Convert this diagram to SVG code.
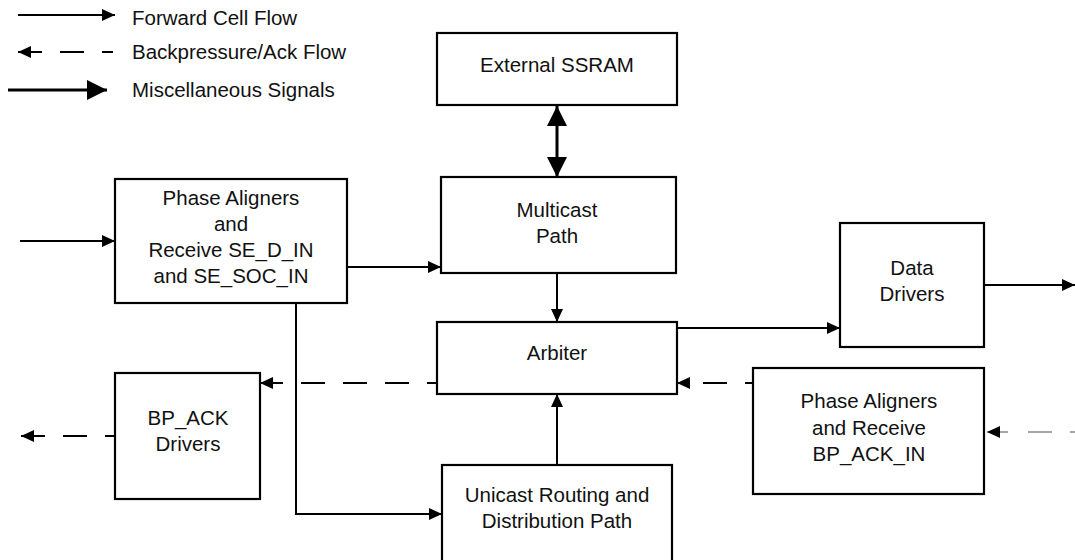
<svg xmlns="http://www.w3.org/2000/svg" width="1075" height="560" viewBox="0 0 1075 560">
<style>
  text { font-family: "Liberation Sans", Arial, sans-serif; font-size: 20.5px; fill: #111; }
  .lbl { text-anchor: middle; }
  .box { fill: #fff; stroke: #000; stroke-width: 2.2; }
  .fwd { fill: none; stroke: #000; stroke-width: 2; marker-end: url(#ah); }
  .bp { fill: none; stroke: #000; stroke-width: 2; stroke-dasharray: 24 18; marker-end: url(#ah); }
  .misc { fill: none; stroke: #000; stroke-width: 3; }
</style>
<defs>
  <marker id="ah" markerUnits="userSpaceOnUse" viewBox="0 0 13 12" refX="13" refY="6" markerWidth="13" markerHeight="12" orient="auto">
    <path d="M0,0 L13,6 L0,12 z" fill="#000"/>
  </marker>
  <marker id="ahBig" markerUnits="userSpaceOnUse" viewBox="0 0 20 20" refX="20" refY="10" markerWidth="20" markerHeight="20" orient="auto-start-reverse">
    <path d="M0,0 L20,10 L0,20 z" fill="#000"/>
  </marker>
</defs>
<rect width="1075" height="560" fill="#fff"/>

<g id="legend">
  <path class="fwd" d="M18,15 H115"/>
  <text x="132" y="25">Forward Cell Flow</text>
  <path class="bp" d="M113,52 H18" stroke-dashoffset="13"/>
  <text x="132" y="59">Backpressure/Ack Flow</text>
  <path class="misc" d="M8,90 H107" marker-end="url(#ahBig)"/>
  <text x="132" y="97">Miscellaneous Signals</text>
</g>

<g id="connectors">
  <path class="fwd" d="M20,241 H115"/>
  <path class="fwd" d="M347,267 H441"/>
  <path class="misc" d="M557,106 V177" marker-start="url(#ahBig)" marker-end="url(#ahBig)"/>
  <path class="fwd" d="M557,273 V322"/>
  <path class="fwd" d="M677,328 H840"/>
  <path class="fwd" d="M984,285 H1075"/>
  <path class="bp" d="M753,383 H677" stroke-dashoffset="16"/>
  <path class="bp" d="M437,383 H260" stroke-dashoffset="14"/>
  <path class="bp" d="M115,436 H21" stroke-dashoffset="14"/>
  <path d="M1075,432 H1070 M1052,432 H1028 M1008,432 H987" fill="none" stroke="#888" stroke-width="1.6" marker-end="url(#ah)"/>
  <path class="fwd" d="M296,303 V514 H442"/>
  <path class="fwd" d="M557,465 V394"/>
</g>

<g id="external-ssram">
  <rect class="box" x="437" y="33" width="240" height="72"/>
  <text class="lbl" x="557" y="72">External SSRAM</text>
</g>

<g id="multicast-path">
  <rect class="box" x="441" y="177" width="235" height="96"/>
  <text class="lbl" x="557" y="217">Multicast</text>
  <text class="lbl" x="557" y="243">Path</text>
</g>

<g id="phase-aligners-se">
  <rect class="box" x="115" y="179" width="232" height="124"/>
  <text class="lbl" x="231" y="205">Phase Aligners</text>
  <text class="lbl" x="231" y="231">and</text>
  <text class="lbl" x="231" y="257">Receive SE_D_IN</text>
  <text class="lbl" x="231" y="283">and SE_SOC_IN</text>
</g>

<g id="arbiter">
  <rect class="box" x="437" y="322" width="240" height="72"/>
  <text class="lbl" x="557" y="360">Arbiter</text>
</g>

<g id="data-drivers">
  <rect class="box" x="840" y="223" width="144" height="124"/>
  <text class="lbl" x="912" y="275">Data</text>
  <text class="lbl" x="912" y="301">Drivers</text>
</g>

<g id="bp-ack-drivers">
  <rect class="box" x="115" y="373" width="145" height="126"/>
  <text class="lbl" x="188" y="425">BP_ACK</text>
  <text class="lbl" x="188" y="451">Drivers</text>
</g>

<g id="phase-aligners-bp">
  <rect class="box" x="753" y="368" width="231" height="126"/>
  <text class="lbl" x="869" y="408">Phase Aligners</text>
  <text class="lbl" x="869" y="435">and Receive</text>
  <text class="lbl" x="869" y="461">BP_ACK_IN</text>
</g>

<g id="unicast-path">
  <rect class="box" x="442" y="465" width="230" height="120"/>
  <text class="lbl" x="557" y="502">Unicast Routing and</text>
  <text class="lbl" x="557" y="528">Distribution Path</text>
</g>
</svg>
